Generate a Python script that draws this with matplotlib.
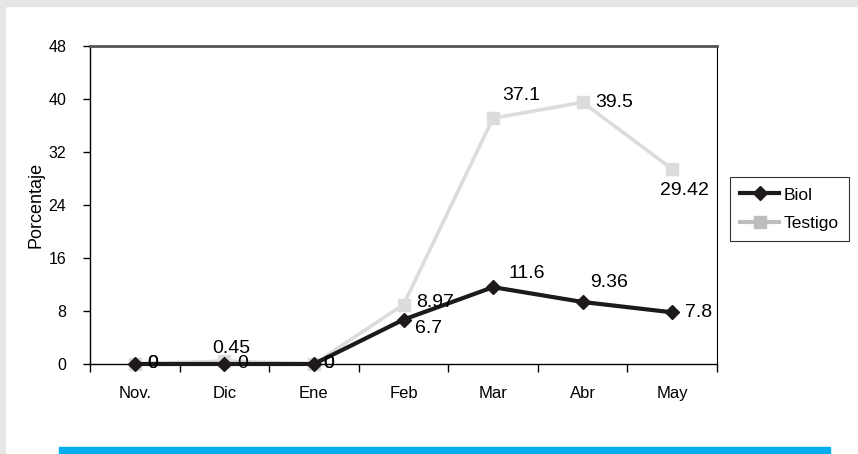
import matplotlib
matplotlib.use("Agg")
import matplotlib.pyplot as plt
from matplotlib.patches import Rectangle
from matplotlib.lines import Line2D

months = ["Nov.", "Dic", "Ene", "Feb", "Mar", "Abr", "May"]
biol = [0, 0, 0, 6.7, 11.6, 9.36, 7.8]
testigo = [0, 0.45, 0, 8.97, 37.1, 39.5, 29.42]
biol_labels = ["0", "0", "0", "6.7", "11.6", "9.36", "7.8"]
testigo_labels = ["0", "0.45", "0", "8.97", "37.1", "39.5", "29.42"]
yticks = [0, 8, 16, 24, 32, 40, 48]

plt.rcParams['font.family'] = ['Liberation Sans', 'DejaVu Sans']

W, H = 858, 454
fig = plt.figure(figsize=(W/100, H/100), dpi=100)
fig.patch.set_facecolor('white')
# light gray frame top & left
fig.patches.append(Rectangle((0, 1-6/H), 1, 6/H, transform=fig.transFigure, color='#e6e6e6', zorder=0))
fig.patches.append(Rectangle((0, 0), 5/W, 1, transform=fig.transFigure, color='#e6e6e6', zorder=0))
# blue bar bottom
fig.patches.append(Rectangle((59/W, 0), (830-59)/W, 7/H, transform=fig.transFigure, color='#00aeef', zorder=0))

ax = fig.add_axes([90/W, 90/H, (717-90)/W, (364-46)/H])
x = list(range(len(months)))

ax.plot(x, testigo, color='#dcdcdc', lw=2.6, marker='s', ms=8, zorder=2, clip_on=False)
ax.plot(x, biol, color='#1e1a1a', lw=3, marker='D', ms=7, zorder=3, clip_on=False)

ax.set_xlim(-0.5, 6.5)
ax.set_ylim(0, 48)
ax.set_yticks(yticks)
ax.set_yticklabels([str(v) for v in yticks], fontsize=11.5)
ax.set_xticks(x)
ax.set_xticklabels(months, fontsize=12)
ax.tick_params(axis='x', which='major', length=0, pad=16)
ax.set_xticks([i - 0.5 for i in range(len(months) + 1)], minor=True)
ax.tick_params(axis='x', which='minor', direction='out', length=6, width=1)
ax.tick_params(axis='y', direction='out', length=5, width=1, pad=12)
for s in ['left', 'bottom']:
    ax.spines[s].set_color('black'); ax.spines[s].set_linewidth(1)
ax.spines['right'].set_color('black'); ax.spines['right'].set_linewidth(0.8)
ax.spines['top'].set_color('#555555'); ax.spines['top'].set_linewidth(2)
ax.set_ylabel('Porcentaje', fontsize=13)
ax.yaxis.set_label_coords(-45/627, 0.5)

# data labels: offsets in pixels (left edge, vertical center)
t_off = [(12, 0), (-12, 13), (9, 0), (13, 2), (9, 23), (13, 0), (-12, -21)]
b_off = [(12, 0), (13, 0), (9, 0), (12, -9), (15, 14), (7, 19), (13, 0)]
for i in x:
    ax.annotate(testigo_labels[i], (i, testigo[i]), xytext=t_off[i], textcoords='offset pixels',
                fontsize=14, ha='left', va='center', zorder=5)
    ax.annotate(biol_labels[i], (i, biol[i]), xytext=b_off[i], textcoords='offset pixels',
                fontsize=14, ha='left', va='center', zorder=5)

handles = [Line2D([], [], color='#1e1a1a', lw=3, marker='D', ms=7),
           Line2D([], [], color='#bdbdbd', lw=3, marker='s', ms=8)]
leg = fig.legend(handles, ['Biol', 'Testigo'], loc='upper left',
                 bbox_to_anchor=(730/W, 1-177/H), borderaxespad=0, fontsize=12.5, frameon=True,
                 fancybox=False, edgecolor='black', handlelength=2.2, handletextpad=0.3,
                 borderpad=0.6, labelspacing=0.75)
leg.get_frame().set_linewidth(0.8)

fig.savefig('out.png', dpi=100)
